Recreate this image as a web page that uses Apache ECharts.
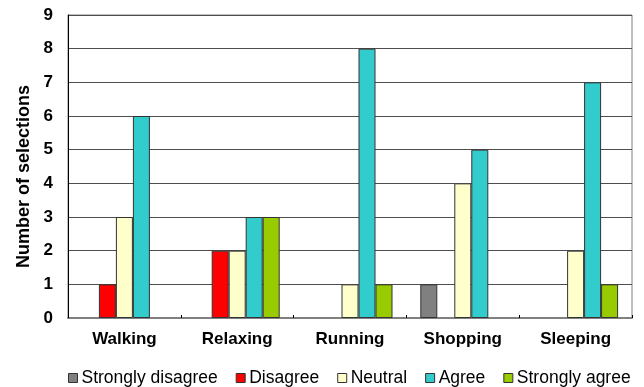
<!DOCTYPE html>
<html><head><meta charset="utf-8">
<script src="https://cdn.jsdelivr.net/npm/echarts@6/dist/echarts.min.js"></script>
<style>html,body{margin:0;padding:0;background:#fff}#c{width:644px;height:387px}</style>
</head><body><div id="c"></div>
<script>
var categories = ['Walking', 'Relaxing', 'Running', 'Shopping', 'Sleeping'];
var stronglyDisagree = [0, 0, 0, 1, 0];
var disagree = [1, 2, 0, 0, 0];
var neutral = [3, 2, 1, 4, 2];
var agree = [6, 3, 8, 5, 7];
var stronglyAgree = [0, 3, 1, 0, 1];
var yTicks = [0, 1, 2, 3, 4, 5, 6, 7, 8, 9];

var FONT = 'Liberation Sans, Arial, sans-serif';
function s(name, data, color) {
  return {
    name: name, type: 'bar',
    data: data.map(function (v) { return v === 0 ? null : v; }),
    barWidth: 17, barGap: '0%',
    itemStyle: { color: color, borderColor: '#333', borderWidth: 1 },
    emphasis: { disabled: true }
  };
}
var chart = echarts.init(document.getElementById('c'), null, { renderer: 'canvas' });
chart.setOption({
  animation: false,
  backgroundColor: '#fff',
  grid: { left: 68, right: 12, top: 15, bottom: 69, show: true, borderColor: '#808080', borderWidth: 1, backgroundColor: 'transparent' },
  legend: {
    left: 63, top: 364, itemWidth: 9, itemHeight: 9, itemGap: 18,
    icon: 'rect',
    itemStyle: { borderColor: '#333', borderWidth: 1 },
    textStyle: { fontFamily: FONT, fontSize: 17.5, color: '#000', padding: [0, 0, 0, -1] },
    data: ['Strongly disagree', 'Disagree', 'Neutral', 'Agree', 'Strongly agree']
  },
  xAxis: {
    type: 'category', data: categories,
    axisLine: { lineStyle: { color: '#808080', width: 2 } },
    axisTick: { show: true, inside: true, length: 3, lineStyle: { color: '#000' } },
    axisLabel: { fontFamily: FONT, fontSize: 17, fontWeight: 'bold', color: '#000', margin: 13 }
  },
  yAxis: {
    type: 'value', min: yTicks[0], max: yTicks[yTicks.length - 1], interval: 1,
    name: 'Number of selections', nameLocation: 'middle', nameGap: 35,
    nameTextStyle: { fontFamily: FONT, fontSize: 18, fontWeight: 'bold', color: '#000', padding: [0, 20, 0, 0] },
    axisLine: { show: true, lineStyle: { color: '#000', width: 1 } },
    axisTick: { show: false },
    splitLine: { lineStyle: { color: '#4d4d4d', width: 1 } },
    axisLabel: { fontFamily: FONT, fontSize: 17, fontWeight: 'bold', color: '#000', margin: 15 }
  },
  series: [
    s('Strongly disagree', stronglyDisagree, '#808080'),
    s('Disagree', disagree, '#ff0000'),
    s('Neutral', neutral, '#ffffcc'),
    s('Agree', agree, '#33cccc'),
    s('Strongly agree', stronglyAgree, '#99cc00')
  ]
});
</script></body></html>
